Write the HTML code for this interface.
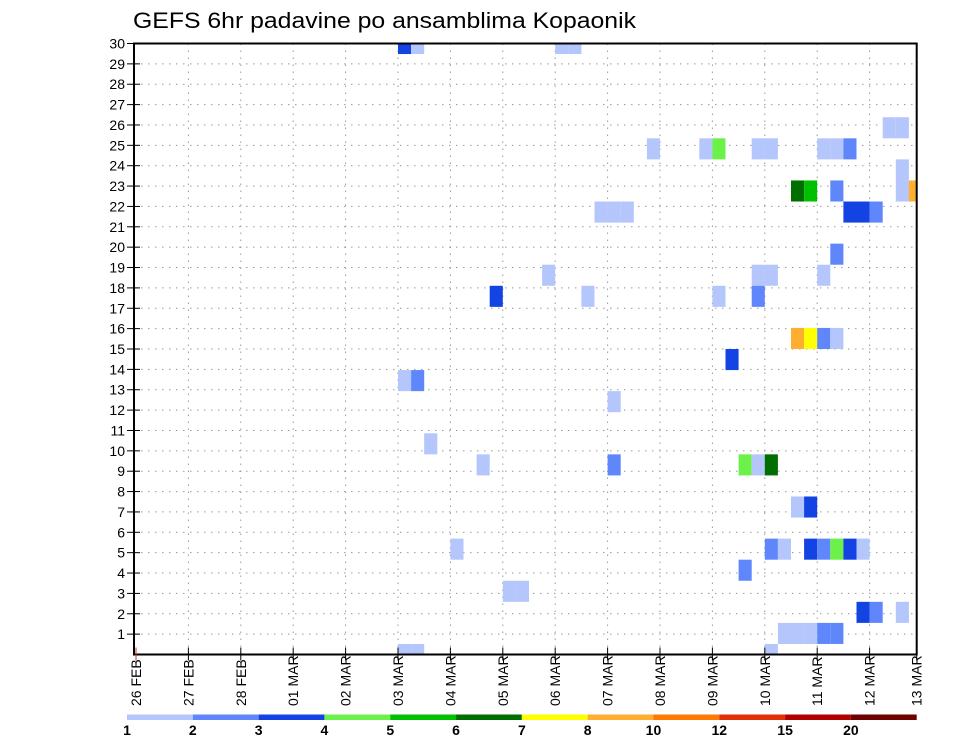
<!DOCTYPE html>
<html><head><meta charset="utf-8"><style>
html,body{margin:0;padding:0;background:#fff;}
svg{display:block;font-family:"Liberation Sans",sans-serif;}
</style></head><body>
<svg id="chart" width="960" height="742" viewBox="0 0 960 742">
<text x="133" y="28" font-size="22" textLength="503" lengthAdjust="spacingAndGlyphs" fill="#000">GEFS 6hr padavine po ansamblima Kopaonik</text>
<g id="grid"></g>
<g id="cells"></g>
<g id="axes"></g>
<g id="cbar"></g>
</svg>
<script>
const dayLabels = ["26 FEB","27 FEB","28 FEB","01 MAR","02 MAR","03 MAR","04 MAR","05 MAR","06 MAR","07 MAR","08 MAR","09 MAR","10 MAR","11 MAR","12 MAR","13 MAR"];
const memberTicks = [1,2,3,4,5,6,7,8,9,10,11,12,13,14,15,16,17,18,19,20,21,22,23,24,25,26,27,28,29,30];
const levelBounds = [1,2,3,4,5,6,7,8,10,12,15,20];
const levelColors = ["#b4c6fb","#5f87fb","#1443e3","#6cf04a","#00c000","#006e00","#ffff00","#ffae30","#ff7a00","#e23008","#b00000","#6e0000"];
// cells: member index, 6-hour step from 26 FEB 00Z, precipitation (mm)
const cellMember = [29,29,29,29, 25,25, 24,24,24,24,24,24,24,24, 23, 22,22,22,22,22, 21,21,21,21,21,21, 19, 18,18,18,18, 17,17,17,17, 15,15,15,15, 14, 13,13, 12, 10, 9,9,9,9,9, 7,7, 5,5,5,5,5,5,5,5, 4, 3,3, 2,2,2, 1,1,1,1,1, 0,0,0];
const cellStep   = [20,21,32,33, 57,58, 39,43,44,47,48,52,53,54, 58, 50,51,53,58,59, 35,36,37,54,55,56, 53, 31,47,48,52, 27,34,44,47, 50,51,52,53, 45, 20,21, 36, 22, 26,36,46,47,48, 50,51, 24,48,49,51,52,53,54,55, 46, 28,29, 55,56,58, 49,50,51,52,53, 48,20,21];
const cellValue  = [3.5,1.5,1.5,1.5, 1.5,1.5, 1.5,1.5,4.5,1.5,1.5,1.5,1.5,2.5, 1.5, 6.5,5.5,2.5,1.5,9, 1.5,1.5,1.5,3.5,3.5,2.5, 2.5, 1.5,1.5,1.5,1.5, 3.5,1.5,1.5,2.5, 9,7.5,2.5,1.5, 3.5, 1.5,2.5, 1.5, 1.5, 1.5,2.5,4.5,1.5,6.5, 1.5,3.5, 1.5,2.5,1.5,3.5,2.5,4.5,3.5,1.5, 2.5, 1.5,1.5, 3.5,2.5,1.5, 1.5,1.5,1.5,2.5,2.5, 1.5,1.5,1.5];

const NS="http://www.w3.org/2000/svg";
const L=134, R=916.7, T=43.5, B=654.5;
const X0=136, DAY=52.4;
function xDay(d){return X0+d*DAY;}
function xStep(k){return X0+k*DAY/4;}
function yTick(v){return B-v*(B-T)/30;}
function yCell(m){return B-m*(B-T)/29;}
function colorOf(v){let c=levelColors[0];for(let i=0;i<levelBounds.length;i++){if(v>=levelBounds[i])c=levelColors[i];}return c;}
function mk(tag,attrs,parent){const e=document.createElementNS(NS,tag);for(const k in attrs)e.setAttribute(k,attrs[k]);parent.appendChild(e);return e;}

const grid=document.getElementById('grid');
memberTicks.forEach(v=>{
  const ln=mk('line',{x1:L,x2:R,y1:yTick(v),y2:yTick(v),stroke:'#999','stroke-width':1,'stroke-dasharray':'1.5,5.5'},grid);
  
  
});
dayLabels.forEach((s,d)=>{
  if(d===0||d===15)return;
  const ln=mk('line',{x1:xDay(d),x2:xDay(d),y1:T,y2:B,stroke:'#999','stroke-width':1,'stroke-dasharray':'1.5,5.5'},grid);
  
  
});

const cells=document.getElementById('cells');
const cw=DAY/4, ch=(B-T)/29;
for(let i=0;i<cellMember.length;i++){
  let x=xStep(cellStep[i]), y=yCell(cellMember[i])-ch/2, w=cw, h=ch;
  if(y<T){h-= (T-y); y=T;}
  if(y+h>B){h=B-y;}
  if(x+w>R){w=R-x;}
  const r=mk('rect',{x:x,y:y,width:w,height:h,fill:colorOf(cellValue[i])},cells);
  
  
}

const axes=document.getElementById('axes');
const frame=mk('rect',{x:L,y:T,width:R-L,height:B-T,fill:'none',stroke:'#000','stroke-width':2},axes);


memberTicks.forEach(v=>{
  const y=yTick(v);
  const t=mk('line',{x1:L-7,x2:L+6,y1:y,y2:y,stroke:'#000','stroke-width':1},axes);
  
  
  const tx=mk('text',{x:L-9,y:y+5,'font-size':14,'text-anchor':'end',fill:'#000'},axes);
  tx.textContent=v;
  
  
});
dayLabels.forEach((s,d)=>{
  const x=d===15?R:xDay(d);
  const t=mk('line',{x1:x,x2:x,y1:B-7,y2:B+6,stroke:d===0?'#c33':'#000','stroke-width':1},axes);
  
  
  const tx=mk('text',{x:0,y:0,'font-size':14,fill:'#000',transform:`translate(${x+5},706) rotate(-90)`},axes);
  tx.textContent=s.replace(' ','  ');
  tx.setAttribute('xml:space','preserve');
  
  
});

const cbar=document.getElementById('cbar');
const cbL=127, cbR=916.7, segW=(cbR-cbL)/levelColors.length;
levelColors.forEach((c,i)=>{
  const r=mk('rect',{x:cbL+i*segW,y:714.5,width:segW,height:5.5,fill:c},cbar);
  
  
});
levelBounds.forEach((b,i)=>{
  const tx=mk('text',{x:cbL+i*segW,y:735,'font-size':14,'font-weight':'bold','text-anchor':'middle',fill:'#000'},cbar);
  tx.textContent=b;
  
  
});
</script>
</body></html>
